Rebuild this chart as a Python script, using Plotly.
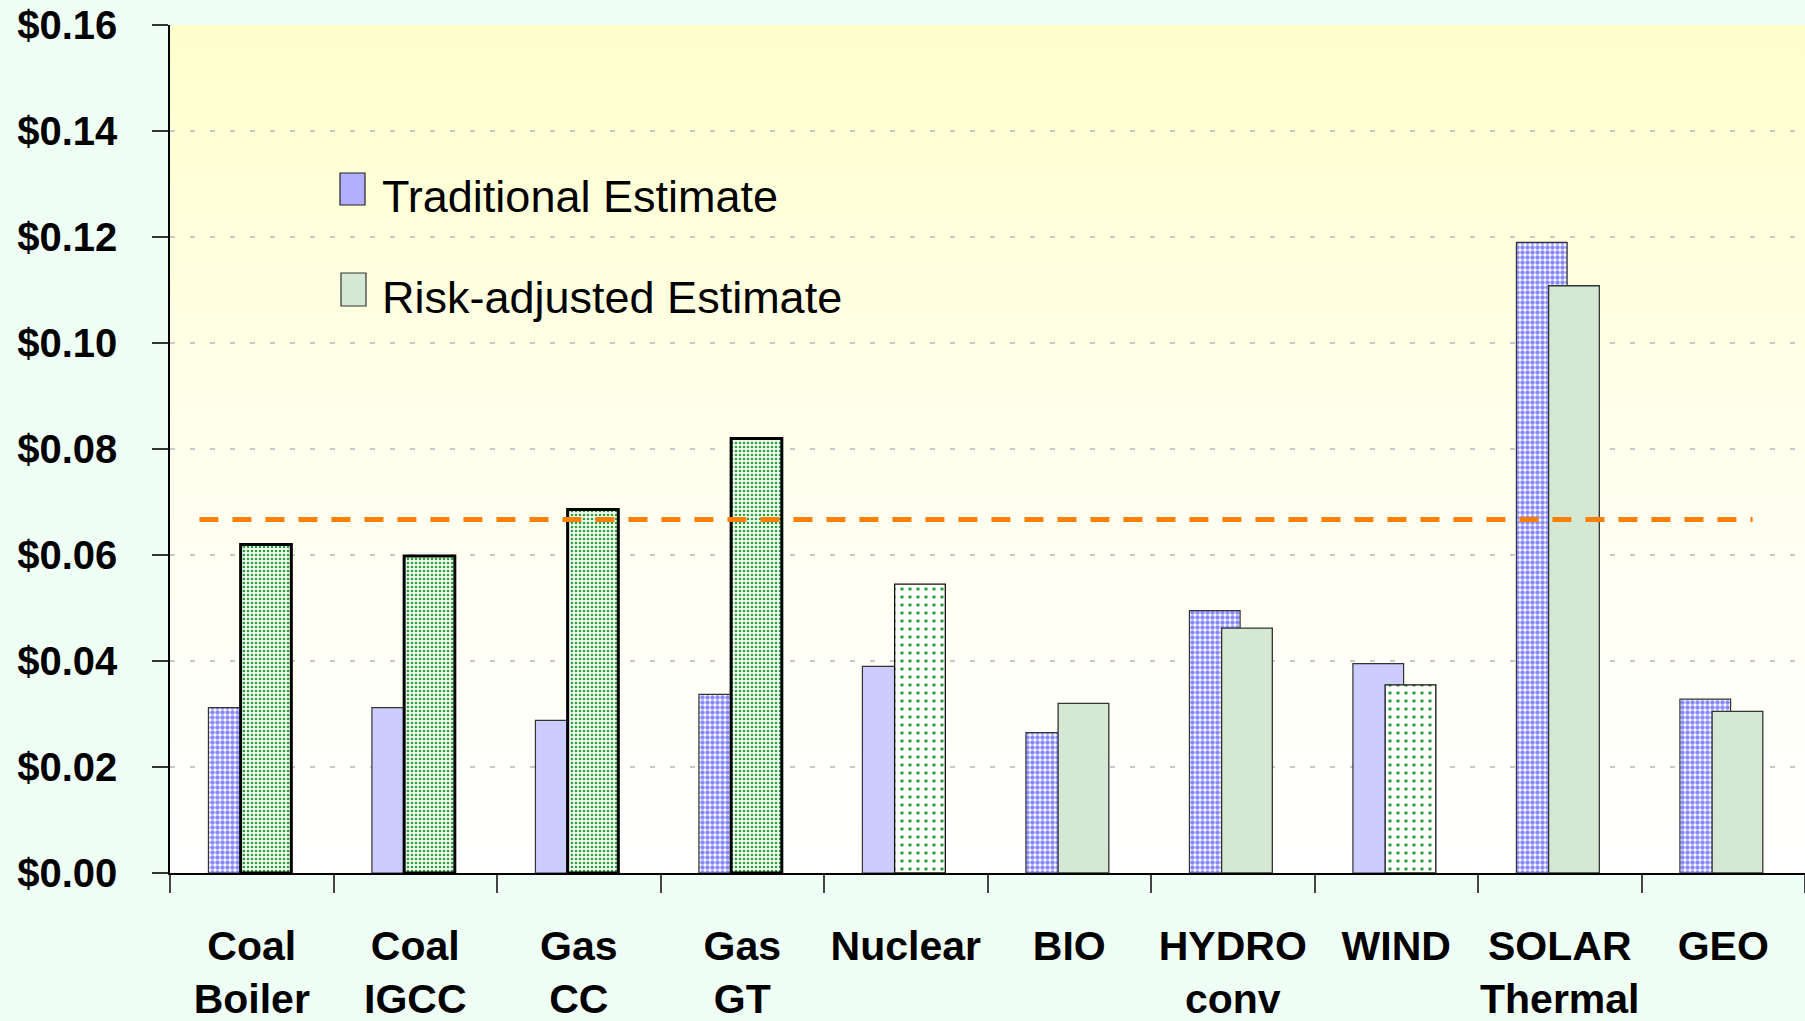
import base64
import plotly.graph_objects as go

# ---------------- data ----------------
categories = ["Coal<br>Boiler", "Coal<br>IGCC", "Gas<br>CC", "Gas<br>GT", "Nuclear",
              "BIO", "HYDRO<br>conv", "WIND", "SOLAR<br>Thermal", "GEO"]
traditional = [0.0312, 0.0312, 0.0288, 0.0337, 0.0390, 0.0265, 0.0495, 0.0395, 0.1190, 0.0328]
risk_adjusted = [0.0620, 0.0598, 0.0686, 0.0820, 0.0545, 0.0320, 0.0462, 0.0355, 0.1108, 0.0305]
reference_cost = 0.0667
y_tick_values = [0.00, 0.02, 0.04, 0.06, 0.08, 0.10, 0.12, 0.14, 0.16]
y_tick_labels = ["$0.00", "$0.02", "$0.04", "$0.06", "$0.08", "$0.10", "$0.12", "$0.14", "$0.16"]
series_names = ["Traditional Estimate", "Risk-adjusted Estimate"]

# ---------------- styles ----------------
trad_style = ["checker", "solid", "solid", "checker", "solid",
              "checker", "checker", "solid", "checker", "checker"]
risk_style = ["dense", "dense", "dense", "dense", "sparse",
              "pale", "pale", "sparse", "pale", "pale"]

STYLE = {
    "checker": dict(color="#ffffff", shape=".", fg="#8a8aff", size=5, solidity=0.62, lw=1.2, lc="#333333"),
    "solid":   dict(color="#ccccff", shape="",  lw=1.2, lc="#333333"),
    "dense":   dict(color="#f6fff6", shape=".", fg="#2f9e3a", size=4, solidity=0.34, lw=3.0, lc="#000000"),
    "sparse":  dict(color="#ffffff", shape=".", fg="#33a03a", size=8, solidity=0.15, lw=1.3, lc="#111111"),
    "pale":    dict(color="#d5e8d4", shape="",  lw=1.3, lc="#333333"),
}

BAR_W = 0.31
OFFSETS = [-0.265, -0.068]

fig = go.Figure()


def add_series(values, styles, name, offset):
    for key in dict.fromkeys(styles):
        st = STYLE[key]
        yv = [v if s == key else None for v, s in zip(values, styles)]
        marker = dict(color=st["color"], line=dict(width=st["lw"], color=st["lc"]))
        if st["shape"]:
            marker["pattern"] = dict(shape=st["shape"], fgcolor=st["fg"], bgcolor=st["color"],
                                     size=st["size"], solidity=st["solidity"], fillmode="replace")
        fig.add_trace(go.Bar(x=categories, y=yv, name=name, width=BAR_W, offset=offset,
                             marker=marker, showlegend=False))


add_series(traditional, trad_style, series_names[0], OFFSETS[0])
add_series(risk_adjusted, risk_style, series_names[1], OFFSETS[1])

# reference dashed line
fig.add_shape(type="line", xref="x", yref="y", x0=-0.32, x1=9.18,
              y0=reference_cost, y1=reference_cost,
              line=dict(color="#ff8000", width=5, dash="19px,14px"), layer="above")

# gradient background for plot area
svg = ('<svg xmlns="http://www.w3.org/2000/svg" width="10" height="200" preserveAspectRatio="none">'
       '<defs><linearGradient id="g" x1="0" y1="0" x2="0" y2="1">'
       '<stop offset="0" stop-color="#ffffcc"/><stop offset="0.55" stop-color="#fffff0"/>'
       '<stop offset="1" stop-color="#ffffff"/></linearGradient></defs>'
       '<rect width="10" height="200" fill="url(#g)"/></svg>')
src = "data:image/svg+xml;base64," + base64.b64encode(svg.encode()).decode()
fig.add_layout_image(dict(source=src, xref="paper", yref="paper", x=0, y=1, sizex=1, sizey=1,
                          xanchor="left", yanchor="top", sizing="stretch", layer="below"))

# manual legend (paper coords of plot area)
PL, PR, PT, PB = 170, 1805, 25, 873


def px(xp):
    return (xp - PL) / (PR - PL)


def py(yp):
    return (PB - yp) / (PB - PT)


fig.add_shape(type="rect", xref="paper", yref="paper", x0=px(340), x1=px(365), y0=py(205), y1=py(173),
              fillcolor="#b0b0ff", line=dict(color="#222222", width=1.2), layer="above")
fig.add_shape(type="rect", xref="paper", yref="paper", x0=px(341), x1=px(366), y0=py(306), y1=py(273),
              fillcolor="#d5e8d4", line=dict(color="#333333", width=1.2), layer="above")
fig.add_annotation(xref="paper", yref="paper", x=px(380), y=py(196), text=series_names[0],
                   showarrow=False, xanchor="left", yanchor="middle",
                   font=dict(family="Liberation Sans, Arial, sans-serif", size=45, color="#000000"))
fig.add_annotation(xref="paper", yref="paper", x=px(380), y=py(297), text=series_names[1],
                   showarrow=False, xanchor="left", yanchor="middle",
                   font=dict(family="Liberation Sans, Arial, sans-serif", size=45, color="#000000"))

fig.update_layout(
    width=1805, height=1021,
    margin=dict(l=PL, r=0, t=PT, b=1021 - PB, pad=0, autoexpand=False),
    paper_bgcolor="#f0fff5", plot_bgcolor="rgba(0,0,0,0)",
    barmode="overlay",
    showlegend=False,
    font=dict(family="Liberation Sans, Arial, sans-serif", color="#000000"),
)
fig.update_xaxes(
    type="category", range=[-0.5, 9.5], tickson="boundaries", tickangle=0, automargin=False,
    ticks="outside", ticklen=18, tickwidth=1.5, tickcolor="#444444",
    showline=True, linecolor="#000000", linewidth=1.5, showgrid=False,
    tickfont=dict(family="Liberation Sans, Arial, sans-serif", size=41, color="#000000", weight="bold"),
    ticklabelstandoff=36,
)
fig.update_yaxes(
    range=[0, 0.16], tickvals=y_tick_values, ticktext=y_tick_labels, automargin=False,
    ticks="outside", ticklen=16, tickwidth=1.5, tickcolor="#333333",
    showline=True, linecolor="#000000", linewidth=1.5,
    showgrid=True, gridcolor="#c8c8c8", gridwidth=1.5, griddash="5px,15px",
    zeroline=False,
    tickfont=dict(family="Liberation Sans, Arial, sans-serif", size=40, color="#000000", weight="bold"),
    ticklabelstandoff=27,
)

fig.write_html("out.html", config={"displayModeBar": False},
               post_script="document.body.style.margin='0';document.body.style.overflow='hidden';")
